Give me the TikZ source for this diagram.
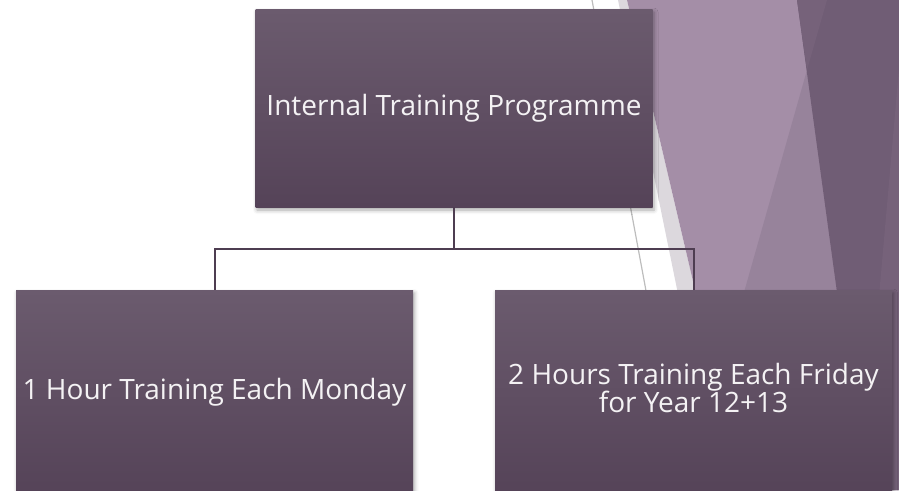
\documentclass[tikz,border=0pt]{standalone}
\usepackage{fontspec}
\setmainfont{Open Sans}
\usetikzlibrary{shadows.blur}

\definecolor{slicegray}{HTML}{DCD8DD}
\definecolor{sliceline}{HTML}{BDBDBD}
\definecolor{slicelight}{HTML}{A48EA7}
\definecolor{slicemid}{HTML}{97839B}
\definecolor{slicedark}{HTML}{705D75}
\definecolor{slicedarker}{HTML}{76627A}
\definecolor{boxtop}{HTML}{6B5B6E}
\definecolor{boxbot}{HTML}{554358}
\definecolor{linkcol}{HTML}{4E3D51}
\definecolor{boxtext}{HTML}{F4F2F4}

\tikzset{
  orgbox/.style={rectangle, minimum width=397pt, minimum height=198pt,
    inner sep=0pt, outer sep=0pt, top color=boxtop, bottom color=boxbot,
    text=boxtext, align=center, font=\fontsize{28}{28.5}\selectfont,
    blur shadow={shadow xshift=1.5pt, shadow yshift=-3pt,
      shadow blur radius=4pt, shadow opacity=35}},
  link/.style={draw=linkcol, line width=2pt}
}

\begin{document}
\begin{tikzpicture}[x=1pt,y=-1pt]
  \useasboundingbox (0,0) rectangle (899,490);
  \clip (0,0) rectangle (899,490);
  % slices on the right
  \fill[slicegray] (618,0) -- (627,0) -- (742,490) -- (718,490) -- cycle;
  \draw[sliceline, line width=1.2pt] (592,0) -- (683,490);
  \fill[slicelight] (627,0) -- (899,0) -- (899,490) -- (742,490) -- cycle;
  \fill[slicemid] (807,70) -- (688,490) -- (864,490) -- cycle;
  \fill[slicedark] (797,0) -- (899,0) -- (899,490) -- (864,490) -- cycle;
  \fill[slicedarker] (797,0) -- (827,0) -- (807,70) -- cycle;
  \fill[slicedarker] (905,0) -- (862,490) -- (899,490) -- (899,0) -- cycle;

  % boxes
  \node[orgbox] (prog) at (454,108) {Internal Training Programme};
  \coordinate (bus) at (454,249);
  \node[orgbox, minimum height=204pt] (mon) at (214.5,392) {1 Hour Training Each Monday};
  \node[orgbox, minimum height=204pt] (fri) at (693.5,392) {2 Hours Training Each Friday\\for Year 12+13\strut};

  % connectors
  \draw[link] (prog.south) -- (bus) -| (mon.north);
  \draw[link] (bus) -| (fri.north);
\end{tikzpicture}
\end{document}
